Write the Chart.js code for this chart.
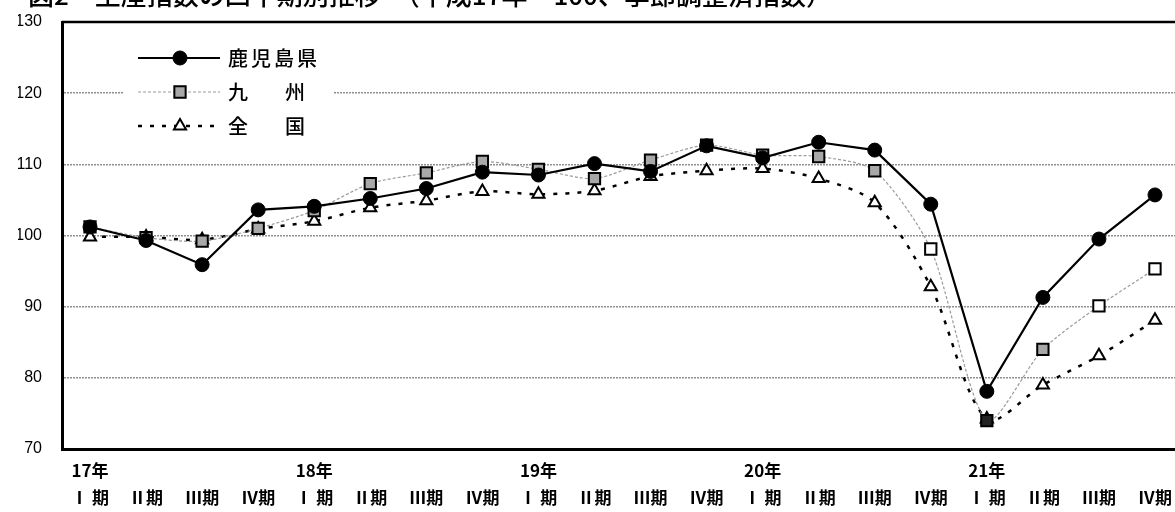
<!DOCTYPE html>
<html>
<head>
<meta charset="utf-8">
<script src="https://cdn.jsdelivr.net/npm/chart.js@4.4.1/dist/chart.umd.min.js"></script>
<style>
  html, body { margin: 0; padding: 0; background: #fff; overflow: hidden; }
  #wrap { position: relative; width: 1186px; height: 512px; }
  #title {
    position: absolute; top: -19px; left: 28px; white-space: nowrap;
    font: 500 26px "Noto Sans CJK JP"; line-height: 26px; color: #000;
  }
</style>
</head>
<body>
<div id="wrap">
  <canvas id="chart" width="1186" height="512"></canvas>
  <div id="title">図2　生産指数の四半期別推移　（平成17年＝100、季節調整済指数）</div>
</div>
<script>
// categories
const years = ['17年', '18年', '19年', '20年', '21年'];
const quarters = ['Ⅰ 期', 'Ⅱ期', 'Ⅲ期', 'Ⅳ期'];
const yTicks = [70, 80, 90, 100, 110, 120, 130];

// series
const kagoshima = [101.2, 99.3, 95.9, 103.6, 104.1, 105.2, 106.6, 108.9, 108.5, 110.1,
                   109.0, 112.6, 110.9, 113.1, 112.0, 104.4, 78.1, 91.3, 99.5, 105.7];
const kyushu    = [101.2, 99.7, 99.2, 101.0, 103.5, 107.3, 108.8, 110.4, 109.3, 108.0,
                   110.6, 112.7, 111.3, 111.1, 109.1, 98.1, 74.0, 84.0, 90.1, 95.3];
const zenkoku   = [99.8, 99.8, 99.4, 100.9, 102.0, 103.9, 104.9, 106.2, 105.8, 106.3,
                   108.3, 109.1, 109.4, 108.0, 104.6, 92.8, 74.2, 79.0, 83.1, 88.1];

const labels = [];
years.forEach(function(y) {
    quarters.forEach(function(q, i) {
        labels.push([i === 0 ? y : '', q]);
    });
});

// kyushu squares: mostly grey, a few drawn hollow / dark
const kyushuFill = kyushu.map(function(v, i) {
    if (i === 16) return '#222';
    if (i === 15 || i === 18 || i === 19) return '#fff';
    return '#a8a8a8';
});

const ctx = document.getElementById('chart').getContext('2d');

// legend drawn inside the plot, over a white box
const innerLegend = {
    id: 'innerLegend',
    beforeDatasetsDraw(chart) {
        const c = chart.ctx;
        const area = chart.chartArea;
        c.save();
        c.fillStyle = '#fff';
        c.fillRect(123, 38, 210, 108);
        // top frame line (130)
        c.strokeStyle = '#000';
        c.lineWidth = 2.5;
        c.beginPath();
        c.moveTo(area.left, area.top);
        c.lineTo(area.right, area.top);
        c.stroke();

        const rows = [58, 92, 126];
        chart.data.datasets.forEach(function(ds, i) {
            const y = rows[i];
            c.save();
            c.strokeStyle = ds.borderColor;
            c.lineWidth = ds.borderWidth;
            c.setLineDash(ds.borderDash || []);
            c.beginPath();
            c.moveTo(138, y);
            c.lineTo(220, y);
            c.stroke();
            c.restore();
            c.fillStyle = i === 1 ? '#a8a8a8' : ds.pointBackgroundColor;
            c.strokeStyle = ds.pointBorderColor;
            c.lineWidth = ds.pointBorderWidth;
            c.setLineDash([]);
            Chart.helpers.drawPoint(c, {
                pointStyle: ds.pointStyle, radius: ds.pointRadius,
                borderWidth: ds.pointBorderWidth, rotation: 0
            }, 180, y);
            c.fillStyle = '#000';
            c.font = '500 20px "Noto Sans CJK JP"';
            c.textBaseline = 'middle';
            const chars = ds.label.replace(/\s|　/g, '').split('');
            const step = chars.length === 4 ? 23 : 57;
            chars.forEach(function(ch, k) {
                c.fillText(ch, 228 + k * step, y);
            });
        });
        c.restore();
    }
};

const chart = new Chart(ctx, {
    type: 'line',
    data: {
        labels: labels,
        datasets: [
            {
                label: '鹿児島県',
                data: kagoshima,
                borderColor: '#000',
                borderWidth: 2.2,
                pointStyle: 'circle',
                pointRadius: 7,
                pointBackgroundColor: '#000',
                pointBorderColor: '#000',
                pointBorderWidth: 1,
                tension: 0
            },
            {
                label: '九　州',
                data: kyushu,
                borderColor: '#9a9a9a',
                borderWidth: 1.2,
                borderDash: [3, 2],
                pointStyle: 'rect',
                pointRadius: 8,
                pointBackgroundColor: kyushuFill,
                pointBorderColor: '#000',
                pointBorderWidth: 2,
                tension: 0.25
            },
            {
                label: '全　国',
                data: zenkoku,
                borderColor: '#000',
                borderWidth: 2.5,
                borderDash: [4, 8],
                pointStyle: 'triangle',
                pointRadius: 7,
                pointBackgroundColor: '#fff',
                pointBorderColor: '#000',
                pointBorderWidth: 2,
                tension: 0.3
            }
        ]
    },
    options: {
        responsive: false,
        animation: false,
        layout: { autoPadding: false, padding: { top: 22, left: 18, right: 3, bottom: 0 } },
        plugins: {
            legend: { display: false },
            tooltip: { enabled: false }
        },
        scales: {
            x: {
                offset: true,
                afterFit: function(s) { s.height = 63; s.paddingLeft = 0; s.paddingRight = 0; },
                grid: { display: false, drawTicks: false },
                border: { display: true, color: '#000', width: 3 },
                ticks: {
                    color: '#000',
                    padding: 8,
                    maxRotation: 0,
                    autoSkip: false,
                    font: { family: '"Noto Sans CJK JP"', size: 17, weight: 'bold', lineHeight: 1.58 }
                }
            },
            y: {
                min: 70,
                max: 130,
                afterFit: function(s) { s.width = 44; s.paddingTop = 0; s.paddingBottom = 0; },
                afterBuildTicks: function(s) { s.ticks = yTicks.map(function(v) { return { value: v }; }); },
                grid: {
                    color: function(c) { return (c.tick.value === 70 || c.tick.value === 130) ? 'rgba(0,0,0,0)' : '#8f8f8f'; },
                    lineWidth: 1.5,
                    drawTicks: false
                },
                border: { display: true, color: '#000', width: 3, dash: [2, 1] },
                ticks: {
                    color: '#000',
                    padding: 20,
                    font: { family: '"Liberation Sans Narrow", "Liberation Sans"', size: 16 }
                }
            }
        }
    },
    plugins: [innerLegend]
});
</script>
</body>
</html>
